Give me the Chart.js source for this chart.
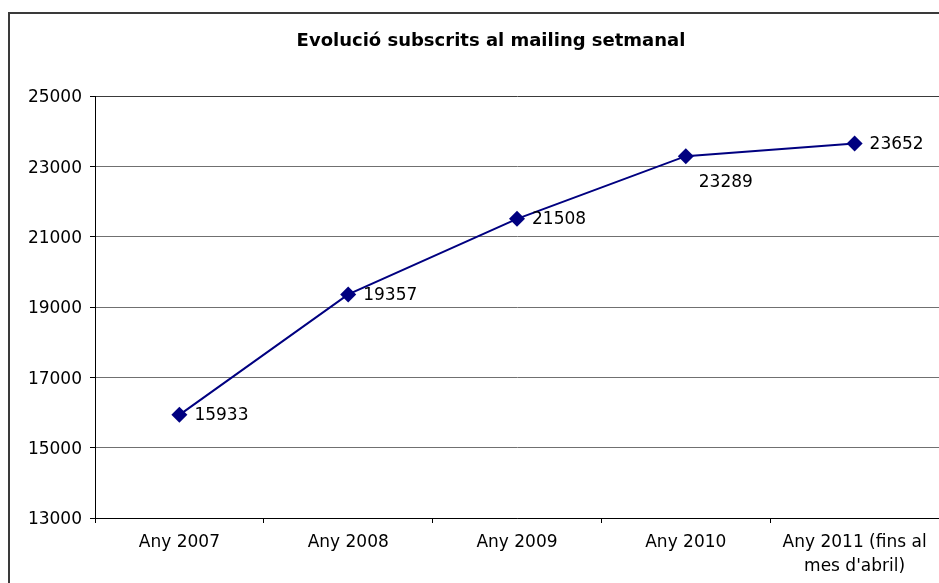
<!DOCTYPE html>
<html>
<head>
<meta charset="utf-8">
<title>Evolució subscrits al mailing setmanal</title>
<script src="https://cdn.jsdelivr.net/npm/chart.js@4/dist/chart.umd.min.js"></script>
<style>
  html, body { margin: 0; padding: 0; background: #fff; }
  #wrap { width: 939px; height: 583px; position: relative; }
</style>
</head>
<body>
<div id="wrap"><canvas id="subsChart" width="939" height="583"></canvas></div>
<script>
// subscriptors per any
var anys = ['Any 2007', 'Any 2008', 'Any 2009', 'Any 2010', ['Any 2011 (fins al', "mes d'abril)"]];
var subscrits = [15933, 19357, 21508, 23289, 23652];
var titol = 'Evolució subscrits al mailing setmanal';
var yMin = 13000, yMax = 25000, yPas = 2000;

var FONT = '"DejaVu Sans", Verdana, sans-serif';

// marc del gràfic i títol
var marc = {
    id: 'marc',
    beforeDraw: function (chart) {
        var c = chart.ctx;
        c.save();
        c.fillStyle = '#fff';
        c.fillRect(0, 0, chart.width, chart.height);
        c.strokeStyle = '#3a3a3a';
        c.lineWidth = 2;
        c.strokeRect(9, 13, 1200, 1200);
        c.font = 'bold 18px ' + FONT;
        c.fillStyle = '#000';
        c.textAlign = 'center';
        c.textBaseline = 'middle';
        c.fillText(titol, 491, 41);
        c.restore();
    }
};

// etiquetes amb el valor de cada punt
var etiquetes = {
    id: 'etiquetes',
    afterDatasetsDraw: function (chart) {
        var c = chart.ctx;
        var meta = chart.getDatasetMeta(0);
        c.save();
        c.font = '17px ' + FONT;
        c.fillStyle = '#000';
        c.textAlign = 'left';
        c.textBaseline = 'middle';
        meta.data.forEach(function (pt, i) {
            var v = chart.data.datasets[0].data[i];
            if (i === 3) {
                c.fillText(v, pt.x + 13, pt.y + 26);
            } else {
                c.fillText(v, pt.x + 15, pt.y + 1);
            }
        });
        c.restore();
    }
};

var ctx = document.getElementById('subsChart').getContext('2d');
var subsChart = new Chart(ctx, {
    type: 'line',
    data: {
        labels: anys,
        datasets: [{
            data: subscrits,
            borderColor: '#000080',
            backgroundColor: '#000080',
            borderWidth: 2,
            pointStyle: 'rectRot',
            pointRadius: 8,
            pointBorderWidth: 0,
            pointBackgroundColor: '#000080',
            tension: 0,
            fill: false,
            clip: false
        }]
    },
    options: {
        responsive: false,
        animation: false,
        layout: { autoPadding: false, padding: { left: 0, right: -1, top: 96, bottom: 0 } },
        plugins: {
            legend: { display: false },
            tooltip: { enabled: false },
            title: { display: false }
        },
        scales: {
            x: {
                offset: true,
                grid: {
                    offset: true,
                    drawOnChartArea: false,
                    drawTicks: true,
                    tickLength: 5,
                    tickColor: '#000'
                },
                border: { color: '#000', width: 1 },
                ticks: {
                    color: '#000',
                    padding: 7,
                    maxRotation: 0,
                    autoSkip: false,
                    font: { family: FONT, size: 17, lineHeight: 1.45 }
                },
                afterFit: function (s) {
                    s.height = 65;
                    s.paddingLeft = 0;
                    s.paddingRight = 0;
                }
            },
            y: {
                min: yMin,
                max: yMax,
                grid: {
                    color: function (c) { return c.tick.value === yMax ? '#3a3a3a' : '#707070'; },
                    tickLength: 5,
                    tickColor: '#000'
                },
                border: { color: '#000', width: 1 },
                ticks: {
                    stepSize: yPas,
                    color: '#000',
                    padding: 8,
                    labelOffset: 2,
                    font: { family: FONT, size: 17 },
                    callback: function (v) { return String(v); }
                },
                afterFit: function (s) {
                    s.width = 95;
                    s.paddingTop = 0;
                    s.paddingBottom = 0;
                }
            }
        }
    },
    plugins: [marc, etiquetes]
});
</script>
</body>
</html>
